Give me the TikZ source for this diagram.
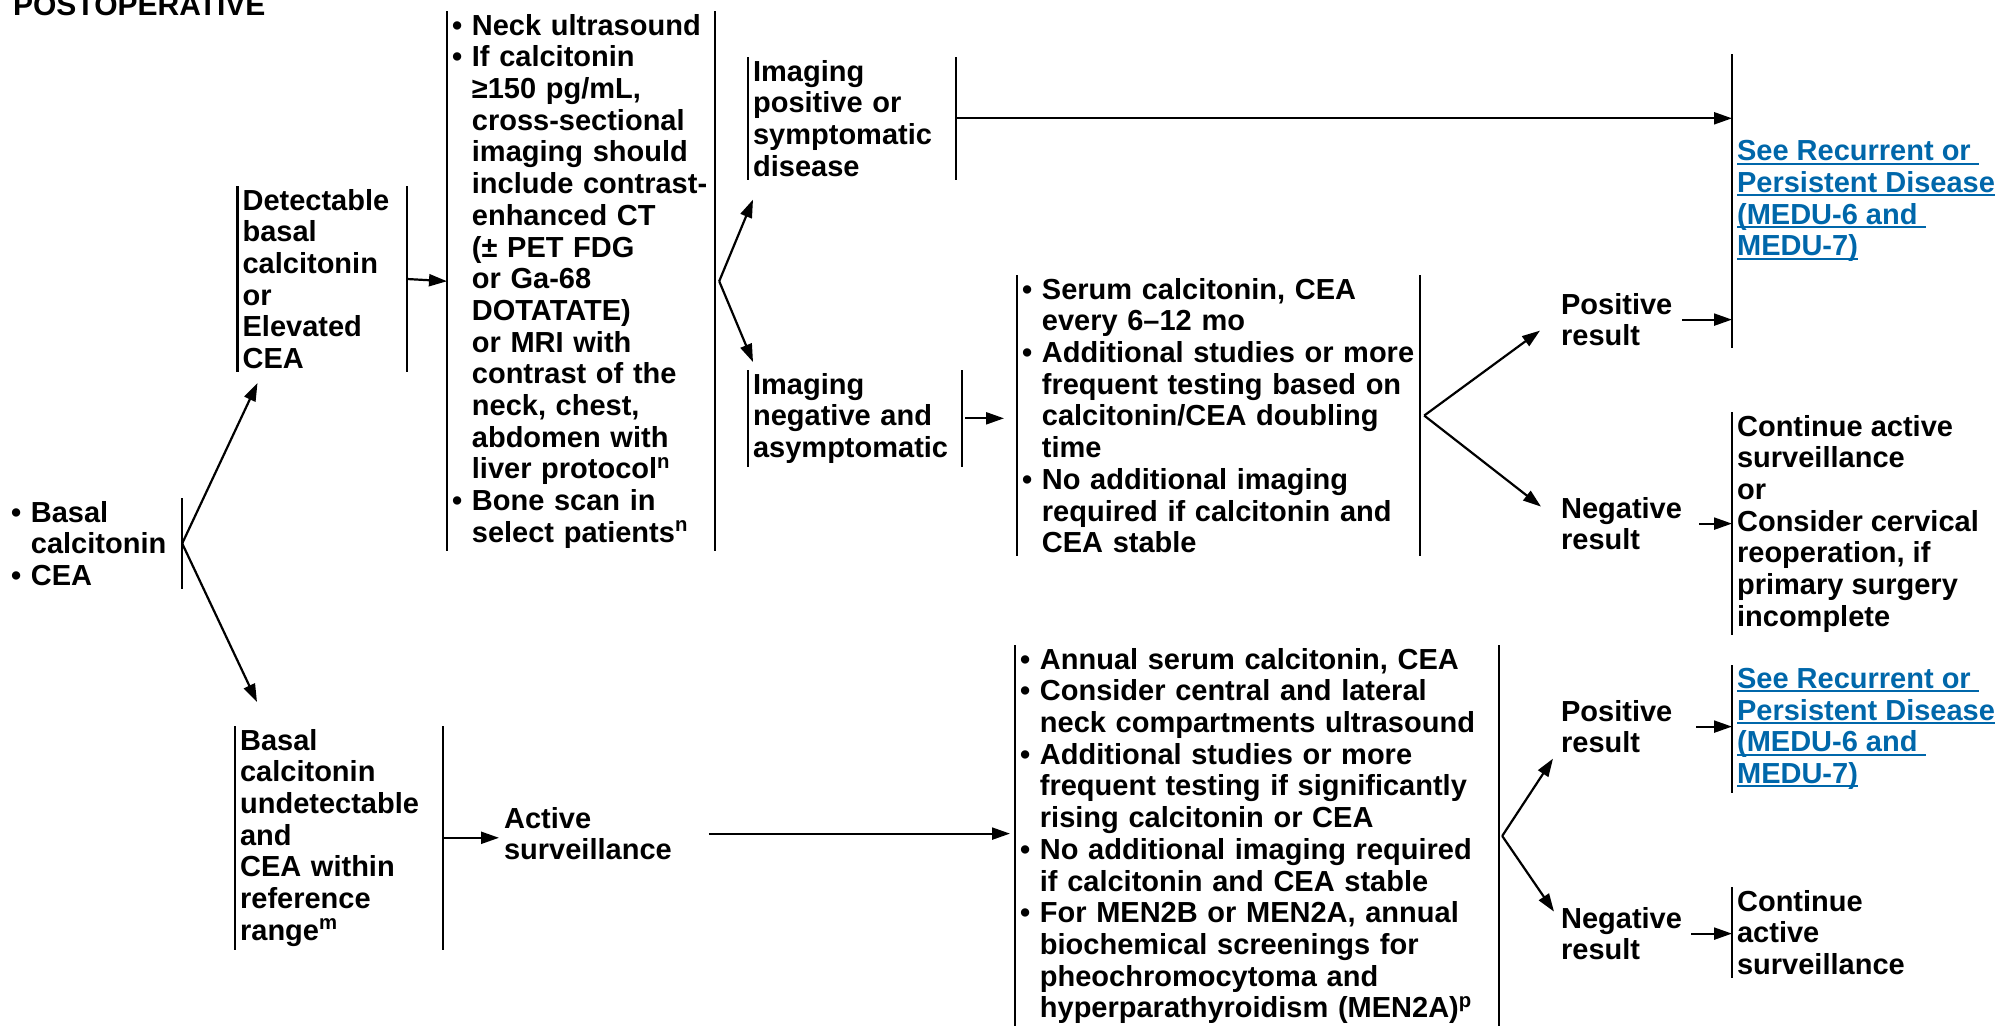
\documentclass[tikz,border=0pt]{standalone}
\usepackage{fontspec}
\setmainfont{Liberation Sans}
\usetikzlibrary{arrows.meta}
\definecolor{linkblue}{RGB}{0,103,170}
\newcommand{\bul}{\textbullet\ }
\newcommand{\indt}{\hphantom{\textbullet\ }}
\newcommand{\lnk}[1]{\setbox0\hbox{#1}\rlap{\rule[-2pt]{\wd0}{1pt}}\box0}

\begin{document}
\begin{tikzpicture}[x=0.5pt, y=-0.5pt, >={Triangle[length=9pt,width=6pt]}, line width=1.1pt]

		% Styles
		\tikzstyle{txt} = [font=\fontsize{14.5pt}{15.85pt}\selectfont\bfseries, align=left, anchor=north west, inner xsep=2pt, inner ysep=1pt];
		\tikzstyle{link} = [txt, text=linkblue];

		\useasboundingbox (0,0) rectangle (2003,1025);
		\clip (0,0) rectangle (2003,1025);

		% Nodes
		\node[anchor=base west, inner sep=0pt, font=\fontsize{15pt}{18pt}\selectfont\bfseries] (title) at (12,15) {POSTOPERATIVE};

		\node[txt, text width=83pt] (start) at (6,498)
		{\bul Basal\\\indt calcitonin\\\bul CEA};

		\node[txt, text width=79.75pt] (detect) at (237.5,186)
		{Detectable\\basal\\calcitonin\\or\\Elevated\\CEA};

		\node[txt, text width=129pt] (scan) at (447,11)
		{\bul Neck ultrasound\\\bul If calcitonin\\\indt ≥150 pg/mL,\\\indt cross-sectional\\\indt imaging should\\\indt include contrast-\\\indt enhanced CT\\\indt (± PET FDG\\\indt or Ga-68\\\indt DOTATATE)\\\indt or MRI with\\\indt contrast of the\\\indt neck, chest,\\\indt abdomen with\\\indt liver protocol\textsuperscript{n}\\\bul Bone scan in\\\indt select patients\textsuperscript{n}};

		\node[txt, text width=99pt] (impos) at (748,57)
		{Imaging\\positive or\\symptomatic\\disease};

		\node[txt, text width=102pt] (imneg) at (748,370)
		{Imaging\\negative and\\asymptomatic};

		\node[txt, text width=196.5pt] (serum) at (1017,275)
		{\bul Serum calcitonin, CEA\\\indt every 6–12 mo\\\bul Additional studies or more\\\indt frequent testing based on\\\indt calcitonin/CEA doubling\\\indt time\\\bul No additional imaging\\\indt required if calcitonin and\\\indt CEA stable};

		\node[txt] (posA) at (1556,290) {Positive\\result};
		\node[txt] (negA) at (1556,494) {Negative\\result};

		\node[link, minimum height=146pt] (seeA) at (1732,54)
		{\lnk{See Recurrent or\ }\\\lnk{Persistent Disease}\\\lnk{(MEDU-6 and\ }\\\lnk{MEDU-7)}};

		\node[txt] (contA) at (1732,412)
		{Continue active\\surveillance\\or\\Consider cervical\\reoperation, if\\primary surgery\\incomplete};

		\node[txt, text width=99pt] (undet) at (235,726)
		{Basal\\calcitonin\\undetectable\\and\\CEA within\\reference\\range\textsuperscript{m}};

		\node[txt] (active) at (499,804) {Active\\surveillance};

		\node[txt, text width=237pt] (annual) at (1015,645)
		{\bul Annual serum calcitonin, CEA\\\bul Consider central and lateral\\\indt neck compartments ultrasound\\\bul Additional studies or more\\\indt frequent testing if significantly\\\indt rising calcitonin or CEA\\\bul No additional imaging required\\\indt if calcitonin and CEA stable\\\bul For MEN2B or MEN2A, annual\\\indt biochemical screenings for\\\indt pheochromocytoma and\\\indt hyperparathyroidism (MEN2A)\textsuperscript{p}};

		\node[txt] (posB) at (1556,697) {Positive\\result};
		\node[txt] (negB) at (1556,904) {Negative\\result};

		\node[link] (seeB) at (1732,665)
		{\lnk{See Recurrent or\ }\\\lnk{Persistent Disease}\\\lnk{(MEDU-6 and\ }\\\lnk{MEDU-7)}};

		\node[txt] (contB) at (1732,887) {Continue\\active\\surveillance};

		% Bars
		\draw (start.north east) -- (start.south east);
		\draw (detect.north west) -- (detect.south west) (detect.north east) -- (detect.south east);
		\draw (scan.north west) -- (scan.south west) (scan.north east) -- (scan.south east);
		\draw (impos.north west) -- (impos.south west) (impos.north east) -- (impos.south east);
		\draw (imneg.north west) -- (imneg.south west) (imneg.north east) -- (imneg.south east);
		\draw (serum.north west) -- (serum.south west) (serum.north east) -- (serum.south east);
		\draw (undet.north west) -- (undet.south west) (undet.north east) -- (undet.south east);
		\draw (annual.north west) -- (annual.south west) (annual.north east) -- (annual.south east);
		\draw (seeA.north west) -- (seeA.south west);
		\draw (contA.north west) -- (contA.south west);
		\draw (seeB.north west) -- (seeB.south west);
		\draw (contB.north west) -- (contB.south west);

		% Arrows
		\draw[->] (start.east) -- ([shift={(20,11)}]detect.south west);
		\draw[->] (start.east) -- ([shift={(22,-24)}]undet.north west);
		\draw[->] (detect.east) -- (scan.west);
		\draw[->] ([xshift=2pt]scan.east) -- ([shift={(5,20)}]impos.south west);
		\draw[->] ([xshift=2pt]scan.east) -- ([shift={(5,-8)}]imneg.north west);
		\draw[->] (impos.east) -- (impos.east -| seeA.west);
		\draw[->] ([xshift=1.5pt]imneg.east) -- ([xshift=-6.5pt]imneg.east -| serum.west);
		\draw[->] ([xshift=2pt]serum.east) -- ([shift={(-16,11)}]posA.west);
		\draw[->] ([xshift=2pt]serum.east) -- ([shift={(-15,-17)}]negA.west);
		\draw[->] ([xshift=2.5pt]posA.east) -- (posA.east -| seeA.west);
		\draw[->] ([xshift=6pt]negA.east) -- (negA.east -| contA.west);
		\draw[->] (undet.east) -- (undet.east -| active.west);
		\draw[->] ([xshift=16pt]active.east) -- ([xshift=-2.5pt]active.east -| annual.west);
		\draw[->] ([xshift=1.5pt]annual.east) -- ([shift={(-3,32)}]posB.west);
		\draw[->] ([xshift=1.5pt]annual.east) -- ([shift={(-2,-22)}]negB.west);
		\draw[->] ([xshift=9.5pt]posB.east) -- (posB.east -| seeB.west);
		\draw[->] ([xshift=2pt]negB.east) -- (negB.east -| contB.west);

	\end{tikzpicture}
\end{document}
